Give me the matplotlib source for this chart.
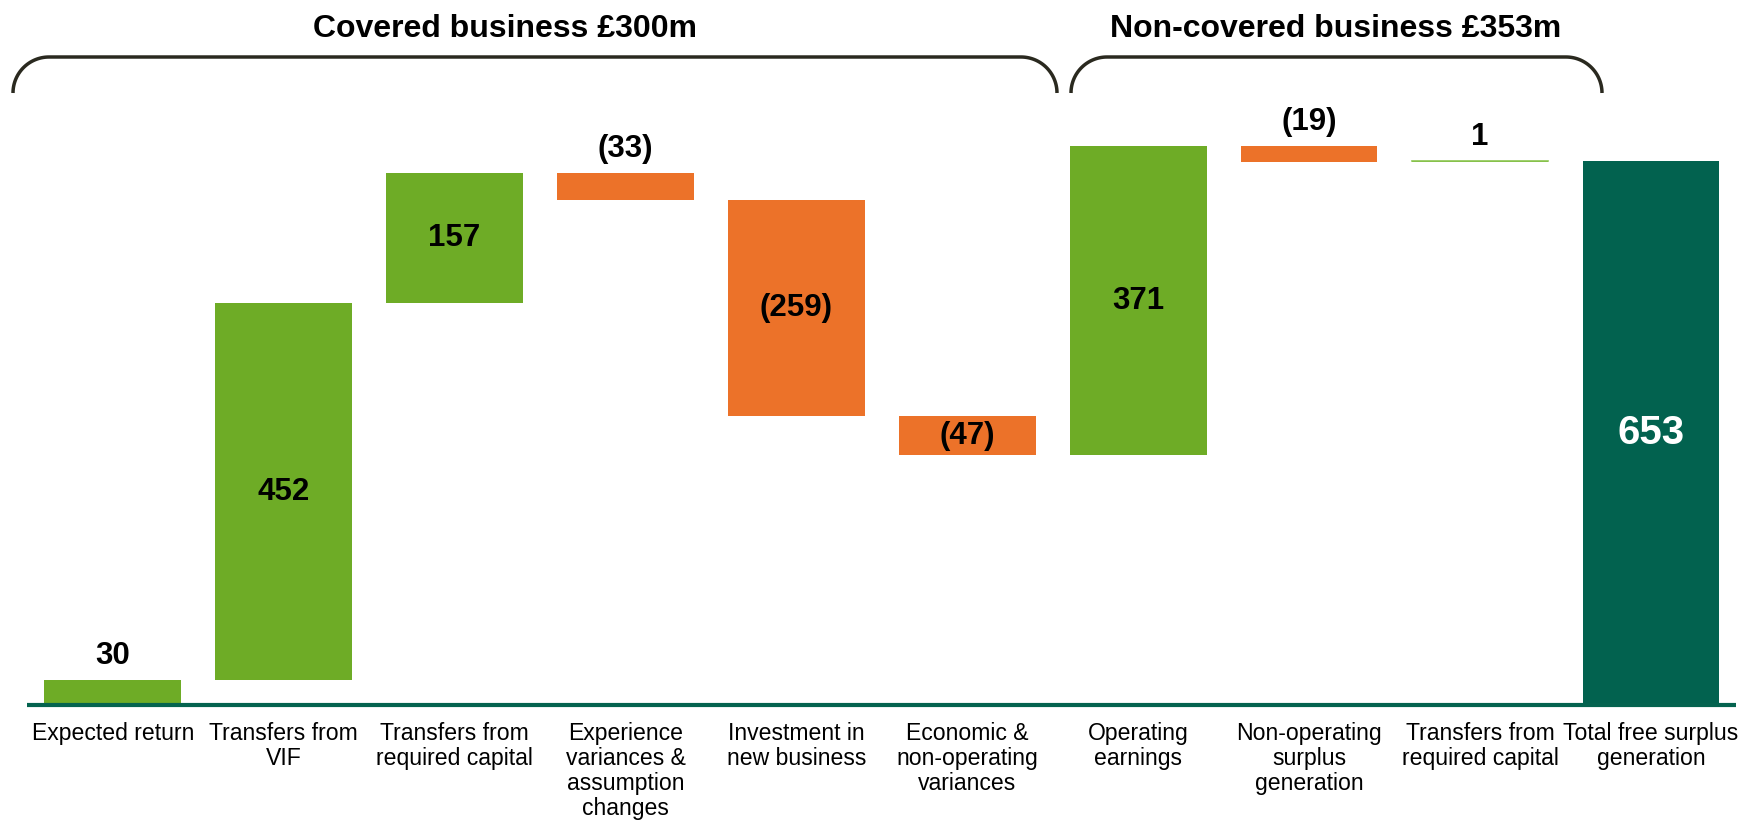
import numpy as np
import matplotlib
matplotlib.use("Agg")
import matplotlib.pyplot as plt
from matplotlib import font_manager, transforms

# ---------------- data ----------------
categories = ["Expected return", "Transfers from\nVIF", "Transfers from\nrequired capital",
              "Experience\nvariances &\nassumption\nchanges", "Investment in\nnew business",
              "Economic &\nnon-operating\nvariances", "Operating\nearnings",
              "Non-operating\nsurplus\ngeneration", "Transfers from\nrequired capital",
              "Total free surplus\ngeneration"]
values = [30, 452, 157, -33, -259, -47, 371, -19, 1, 653]
is_total = [False, False, False, False, False, False, False, False, False, True]
group_titles = ["Covered business £300m", "Non-covered business £353m"]

GREEN = "#6EAC26"
ORANGE = "#EC7229"
TEAL = "#02624F"
BRACE = "#2A291F"

avail = {f.name for f in font_manager.fontManager.ttflist}
FONT = next((f for f in ["Liberation Sans", "Arial", "DejaVu Sans"] if f in avail), "DejaVu Sans")
plt.rcParams['font.family'] = [FONT, 'DejaVu Sans']

W, H = 1743, 823
fig = plt.figure(figsize=(W / 100, H / 100), dpi=100)
fig.patch.set_facecolor("white")

# main data axes covering whole figure
x0_px, dx_px = 112.8, 170.9       # px of x=0 and px per category
base_px, py = 118.0, 0.833         # baseline px from bottom, px per unit
ax = fig.add_axes([0, 0, 1, 1])
ax.set_xlim(-x0_px / dx_px, (W - x0_px) / dx_px)
ax.set_ylim(-base_px / py, (H - base_px) / py)
ax.axis("off")

# overlay pixel axes (top-left origin) for decorations
ov = fig.add_axes([0, 0, 1, 1], facecolor="none")
ov.set_xlim(0, W)
ov.set_ylim(H, 0)
ov.axis("off")

# waterfall
cum = 0
bottoms, heights, colors = [], [], []
for v, tot in zip(values, is_total):
    if tot:
        bottoms.append(0)
        heights.append(v)
        colors.append(TEAL)
    else:
        if v >= 0:
            bottoms.append(cum)
            heights.append(v)
            colors.append(GREEN)
        else:
            bottoms.append(cum + v)
            heights.append(-v)
            colors.append(ORANGE)
        cum += v

xs = np.arange(len(values))
ax.bar(xs, heights, bottom=bottoms, width=0.8, color=colors, edgecolor="none", zorder=2)
# the tiny "1" bar shown as a thin line
for i, h in enumerate(heights):
    if h <= 2:
        ax.plot([i - 0.4, i + 0.4], [bottoms[i] + h, bottoms[i] + h], color="#8DC653", lw=1.2, zorder=3)

# baseline
ax.plot([-0.5, 9.5], [0, 0], color="#04634F", lw=3.0, zorder=3, solid_capstyle="butt")

# value labels
for i, (v, b, h, tot) in enumerate(zip(values, bottoms, heights, is_total)):
    txt = f"({abs(v)})" if v < 0 else f"{v}"
    if tot:
        ax.text(i, b + h / 2, txt, ha="center", va="center", fontsize=29,
                fontweight="bold", color="white", zorder=4)
    elif h > 40:
        ax.text(i, b + h / 2, txt, ha="center", va="center", fontsize=22.5,
                fontweight="bold", color="black", zorder=4)
    else:
        ax.text(i, b + h + 29, txt, ha="center", va="center", fontsize=22.5,
                fontweight="bold", color="black", zorder=4)

# category labels
blend = transforms.blended_transform_factory(ax.transData, ov.transData)
for i, c in enumerate(categories):
    ax.text(i, 722, c, transform=blend, ha="center", va="top", fontsize=16.6,
            color="black", linespacing=1.12)

# braces
def brace(xl, xr, ytop=57, ybot=93, r=36):
    t = np.linspace(np.pi, 1.5 * np.pi, 30)
    lx = xl + r + r * np.cos(t)
    ly = ybot + r * np.sin(t)
    t2 = np.linspace(1.5 * np.pi, 2 * np.pi, 30)
    rx = xr - r + r * np.cos(t2)
    ry = ybot + r * np.sin(t2)
    px = np.concatenate([lx, rx])
    pyy = np.concatenate([ly, ry])
    ov.plot(px, pyy, color=BRACE, lw=2.5, solid_capstyle="butt")

brace(13, 1057)
brace(1071, 1602)

ov.text(505, 37, group_titles[0], ha="center", va="baseline", fontsize=23,
        fontweight="bold", color="black")
ov.text(1336, 37, group_titles[1], ha="center", va="baseline", fontsize=23,
        fontweight="bold", color="black")

fig.savefig("out.png", dpi=100, facecolor="white")
